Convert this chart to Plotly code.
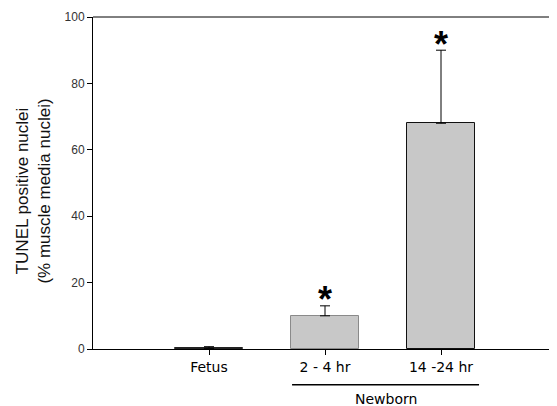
import plotly.graph_objects as go

categories = ["Fetus", "2 - 4 hr", "14 -24 hr"]
values = [0.2, 10.0, 68.0]
errors = [0.5, 3.0, 22.0]
significant = [False, True, True]
y_ticks = [0, 20, 40, 60, 80, 100]
group_label = "Newborn"
y_title_lines = ["TUNEL positive nuclei", "(% muscle media nuclei)"]

x_pos = list(range(len(categories)))

fig = go.Figure()
fig.add_trace(go.Bar(
    x=x_pos, y=values,
    width=0.59,
    marker=dict(color="#c8c8c8",
                line=dict(color=["#222222", "#8a8a8a", "#111111"], width=1)),
    error_y=dict(type="data", symmetric=False, array=errors, arrayminus=[0]*3,
                 color="black", thickness=1, width=5),
    showlegend=False,
))

for xi, v, e, s in zip(x_pos, values, errors, significant):
    if s:
        fig.add_annotation(x=xi, y=v + e, text="<b>*</b>", showarrow=False,
                           yanchor="middle", yshift=6,
                           font=dict(family="Liberation Sans", size=36, color="black"))

# group bracket line under newborn categories
fig.add_shape(type="line", xref="x", yref="paper",
              x0=0.716, x1=2.328, y0=-0.108, y1=-0.108,
              line=dict(color="black", width=1.5))
fig.add_annotation(x=1.53, y=-0.151, xref="x", yref="paper", text=group_label,
                   showarrow=False, yanchor="middle",
                   font=dict(family="DejaVu Sans", size=14, color="black"))

# y-axis title as rotated annotation
fig.add_annotation(x=-0.128, y=0.476, xref="paper", yref="paper",
                   text="<br>".join(y_title_lines), textangle=-90,
                   showarrow=False, xanchor="center", yanchor="middle",
                   font=dict(family="Liberation Sans", size=17, color="#111111"))

fig.update_layout(
    width=549, height=398,
    margin=dict(l=85, r=0, t=9, b=57),
    plot_bgcolor="white", paper_bgcolor="white",
    font=dict(family="Liberation Sans", size=12, color="#333333"),
    bargap=0,
)
fig.update_xaxes(
    range=[-1, 3], tickvals=x_pos, ticktext=categories,
    tickfont=dict(family="DejaVu Sans", size=14, color="black"),
    showline=True, linecolor="black", linewidth=1, mirror=False,
    ticks="outside", ticklen=5, tickcolor="black",
    showgrid=False, zeroline=False,
)
fig.update_yaxes(
    range=[0, 100], tickvals=y_ticks,
    tickfont=dict(family="Liberation Sans", size=12, color="#333333"),
    showline=True, linecolor="black", linewidth=1,
    ticks="outside", ticklen=5, tickcolor="black",
    showgrid=False, zeroline=False,
)
# top border line
fig.add_shape(type="line", xref="paper", yref="paper", x0=0, x1=1, y0=1, y1=1,
              line=dict(color="black", width=1))

fig.write_html("out.html")
